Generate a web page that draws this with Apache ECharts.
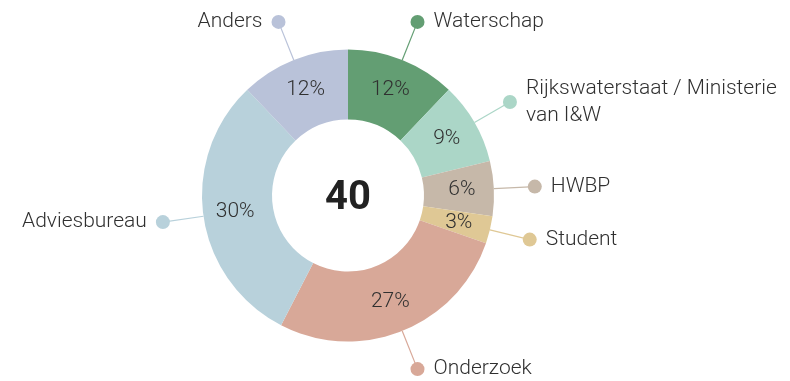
<!DOCTYPE html>
<html>
<head>
<meta charset="utf-8">
<script src="https://cdn.jsdelivr.net/npm/echarts@6/dist/echarts.min.js"></script>
<style>
  html, body { margin: 0; padding: 0; background: #ffffff; }
  #chart { width: 790px; height: 381px; }
</style>
</head>
<body>
<div id="chart"></div>
<script>
// Respondents by type of organisation (percent of total)
const categories = ['Waterschap', 'Rijkswaterstaat / Ministerie\nvan I&W', 'HWBP', 'Student', 'Onderzoek', 'Adviesbureau', 'Anders'];
const shares = [12, 9, 6, 3, 27, 30, 12];
const total = 40;
const colors = ['#639e73', '#abd6c7', '#c6b8a9', '#dfc895', '#d8a898', '#b8d1db', '#b9c2d9'];

// Layout and style settings
const pieCenter = [348, 195.5];
const pieRadius = [76, 146];
const lineLen = 41;
const dotSize = 14;
const fontFamily = 'Roboto, "Noto Sans", sans-serif';
const textColor = '#303030';
const clear = 'rgba(0,0,0,0)';

const dotRich = {};
colors.forEach((c, i) => {
  dotRich['d' + i] = {
    width: dotSize, height: dotSize, lineHeight: dotSize,
    borderRadius: dotSize / 2, backgroundColor: c
  };
});

const sliceData = categories.map((name, i) => ({
  name: name,
  value: shares[i],
  itemStyle: { color: colors[i] }
}));

function ring(extra) {
  return Object.assign({
    type: 'pie',
    center: pieCenter,
    radius: pieRadius,
    startAngle: 90,
    clockwise: true,
    avoidLabelOverlap: false,
    emphasis: { disabled: true },
    animation: false
  }, extra);
}

const chart = echarts.init(document.getElementById('chart'), null, { renderer: 'canvas' });

chart.setOption({
  backgroundColor: '#ffffff',
  series: [
    // donut with leader lines ending in coloured dots
    ring({
      data: sliceData,
      itemStyle: { borderWidth: 0 },
      label: {
        show: true,
        position: 'outside',
        distanceToLabelLine: -dotSize / 2,
        formatter: p => '{d' + p.dataIndex + '|}',
        rich: dotRich
      },
      labelLine: {
        show: true,
        length: lineLen,
        length2: 0,
        smooth: false,
        lineStyle: { width: 1.2 }
      }
    }),
    // category names next to the dots
    ring({
      silent: true,
      data: categories.map((name, i) => ({ name: name, value: shares[i] })),
      itemStyle: { color: clear },
      label: {
        show: true,
        position: 'outside',
        distanceToLabelLine: 16,
        formatter: p => p.name,
        fontFamily: fontFamily,
        fontSize: 21,
        fontWeight: 300,
        lineHeight: 27,
        color: textColor
      },
      labelLine: { show: false, length: lineLen, length2: 0 }
    }),
    // percentages inside the ring
    ring({
      silent: true,
      data: categories.map((name, i) => ({ name: name, value: shares[i] })),
      itemStyle: { color: clear },
      label: {
        show: true,
        position: 'inside',
        formatter: p => p.value + '%',
        fontFamily: fontFamily,
        fontSize: 21,
        fontWeight: 300,
        color: textColor
      },
      labelLine: { show: false }
    }),
    // total in the centre
    {
      type: 'pie',
      center: pieCenter,
      radius: [0, 1],
      silent: true,
      animation: false,
      emphasis: { disabled: true },
      data: [{ name: 'Totaal', value: total }],
      itemStyle: { color: clear },
      label: {
        show: true,
        position: 'center',
        offset: [0, 3],
        formatter: p => String(p.value),
        fontFamily: fontFamily,
        fontSize: 40,
        fontWeight: 'bold',
        color: '#222222'
      },
      labelLine: { show: false }
    }
  ]
});
</script>
</body>
</html>
